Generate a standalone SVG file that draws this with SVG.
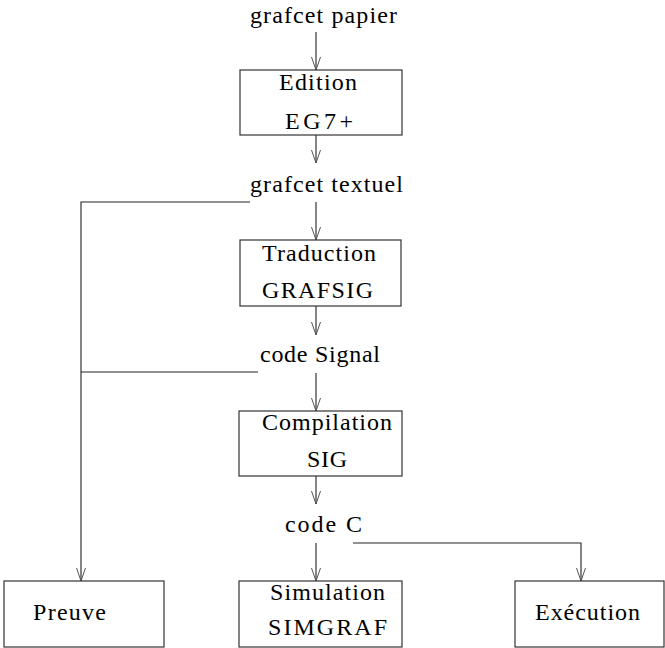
<svg xmlns="http://www.w3.org/2000/svg" width="665" height="648" viewBox="0 0 665 648">
<style>
  .box { fill: #ffffff; stroke: #333333; stroke-width: 1.2; }
  .lbl { font-family: "Liberation Serif", "Times New Roman", serif; font-size: 24px; fill: #000000; }
  .ln { fill: none; stroke: #222222; stroke-width: 1.1; }
  .hd { fill: none; stroke: #555555; stroke-width: 1; }
</style>
<rect width="665" height="648" fill="#ffffff"/>

<g id="connectors">
  <path class="ln" d="M316,32 V70"/>
  <path class="ln" d="M316,135 V163"/>
  <path class="ln" d="M316,202 V240"/>
  <path class="ln" d="M316,306 V335"/>
  <path class="ln" d="M316,373 V411"/>
  <path class="ln" d="M316,476 V504"/>
  <path class="ln" d="M316,543 V581"/>
  <path class="ln" d="M250,202 H81 V581"/>
  <path class="ln" d="M258,372 H81"/>
  <path class="ln" d="M353,543 H581 V581"/>
  <g class="hd">
    <path d="M311.5,57 L316,70 L320.5,57"/>
    <path d="M311.5,150 L316,163 L320.5,150"/>
    <path d="M311.5,227 L316,240 L320.5,227"/>
    <path d="M311.5,322 L316,335 L320.5,322"/>
    <path d="M311.5,398 L316,411 L320.5,398"/>
    <path d="M311.5,491 L316,504 L320.5,491"/>
    <path d="M311.5,568 L316,581 L320.5,568"/>
    <path d="M76.5,568 L81,581 L85.5,568"/>
    <path d="M576.5,568 L581,581 L585.5,568"/>
  </g>
</g>

<g id="grafcet-papier">
  <text class="lbl" x="250" y="23" textLength="147" lengthAdjust="spacing">grafcet papier</text>
</g>
<g id="edition">
  <rect class="box" x="240" y="70" width="162" height="65"/>
  <text class="lbl" x="279" y="90" textLength="78" lengthAdjust="spacing">Edition</text>
  <text class="lbl" x="285" y="129" textLength="68" lengthAdjust="spacing">EG7+</text>
</g>
<g id="grafcet-textuel">
  <text class="lbl" x="250" y="192" textLength="153" lengthAdjust="spacing">grafcet textuel</text>
</g>
<g id="traduction">
  <rect class="box" x="240" y="240" width="161" height="66"/>
  <text class="lbl" x="262" y="261" textLength="114" lengthAdjust="spacing">Traduction</text>
  <text class="lbl" x="262" y="298" textLength="111" lengthAdjust="spacing">GRAFSIG</text>
</g>
<g id="code-signal">
  <text class="lbl" x="260" y="362" textLength="120" lengthAdjust="spacing">code Signal</text>
</g>
<g id="compilation">
  <rect class="box" x="239" y="411" width="163" height="65"/>
  <text class="lbl" x="262" y="430" textLength="130" lengthAdjust="spacing">Compilation</text>
  <text class="lbl" x="307" y="467" textLength="40" lengthAdjust="spacing">SIG</text>
</g>
<g id="code-c">
  <text class="lbl" x="285" y="532" textLength="77" lengthAdjust="spacing">code C</text>
</g>
<g id="preuve">
  <rect class="box" x="4" y="581" width="160" height="66"/>
  <text class="lbl" x="33" y="620" textLength="73" lengthAdjust="spacing">Preuve</text>
</g>
<g id="simulation">
  <rect class="box" x="239" y="581" width="163" height="66"/>
  <text class="lbl" x="270" y="600" textLength="115" lengthAdjust="spacing">Simulation</text>
  <text class="lbl" x="268" y="635" textLength="119" lengthAdjust="spacing">SIMGRAF</text>
</g>
<g id="execution">
  <rect class="box" x="515" y="581" width="149" height="66"/>
  <text class="lbl" x="535" y="620" textLength="105" lengthAdjust="spacing">Exécution</text>
</g>
</svg>
